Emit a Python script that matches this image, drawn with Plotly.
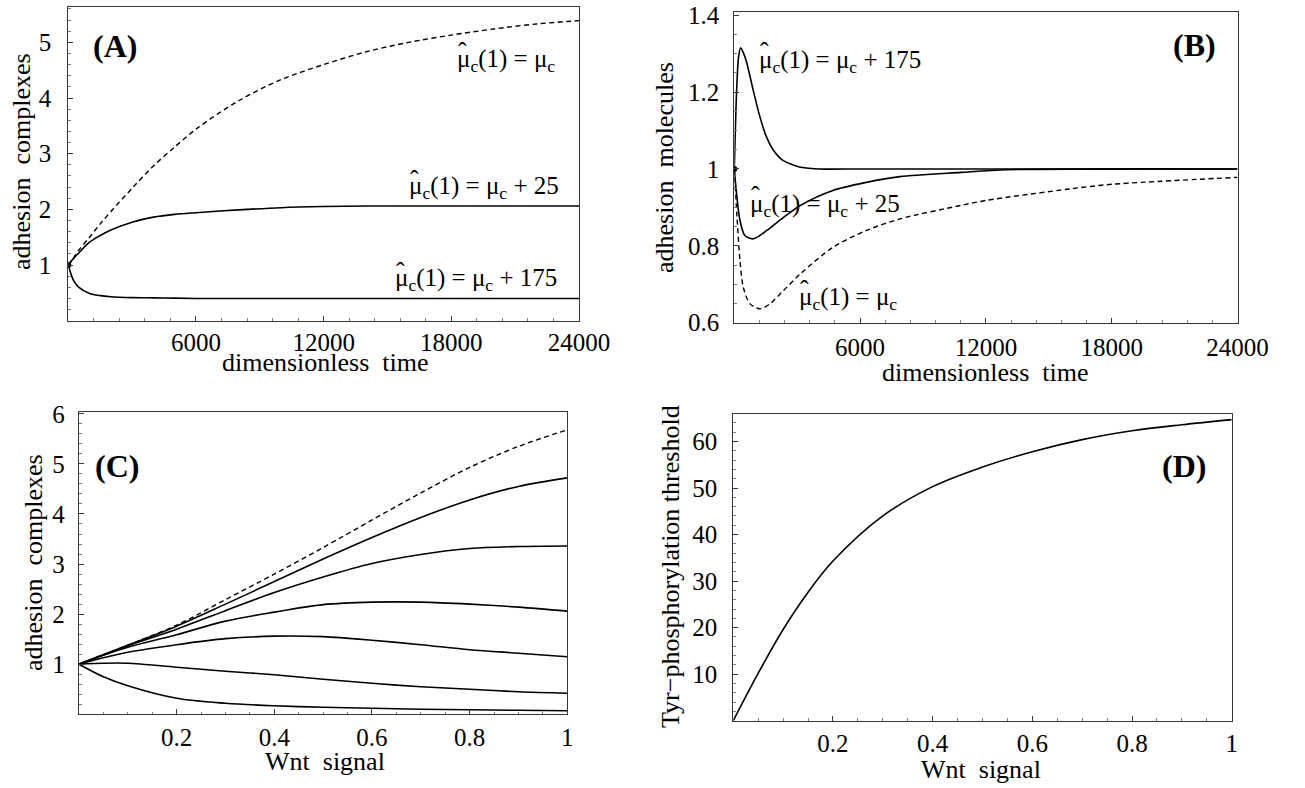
import plotly.graph_objects as go

W, H = 1305, 788
FONT = "Liberation Serif"

# ---------------- data ----------------
# Panel A: adhesion complexes vs dimensionless time
tA = [0, 250, 500, 1000, 1500, 2000, 3000, 4000, 5000, 6000, 8000, 10000,
      12000, 14000, 16000, 18000, 20000, 22000, 24000]
A_mu = [1, 1.13, 1.27, 1.50, 1.74, 1.96, 2.38, 2.78, 3.12, 3.44, 3.95, 4.33,
        4.60, 4.83, 5.00, 5.13, 5.24, 5.33, 5.39]
A_mu25 = [1, 1.12, 1.22, 1.41, 1.53, 1.63, 1.77, 1.86, 1.91, 1.94, 1.99, 2.03,
          2.05, 2.06, 2.06, 2.06, 2.06, 2.06, 2.06]
A_mu175 = [1, 0.72, 0.60, 0.49, 0.45, 0.43, 0.415, 0.41, 0.405, 0.40, 0.40, 0.40,
           0.40, 0.40, 0.40, 0.40, 0.40, 0.40, 0.40]

# Panel B: adhesion molecules vs dimensionless time
tB175 = [0, 50, 100, 200, 300, 450, 600, 900, 1200, 1500, 1850, 2300, 3100,
         4000, 6000, 12000, 24000]
B_mu175 = [1, 1.10, 1.19, 1.29, 1.315, 1.30, 1.275, 1.205, 1.14, 1.088, 1.05,
           1.023, 1.005, 1.0, 1.0, 1.0, 1.0]
tB25 = [0, 110, 270, 500, 860, 1200, 1550, 2350, 3150, 4700, 6300, 7900,
        10800, 13000, 24000]
B_mu25 = [1, 0.935, 0.866, 0.827, 0.818, 0.826, 0.84, 0.874, 0.905, 0.944,
          0.965, 0.98, 0.991, 0.998, 1.0]
tBmu = [0, 130, 270, 430, 750, 1230, 1700, 2350, 3150, 4700, 6300, 7900,
        10800, 12000, 16000, 18000, 24000]
B_mu = [1, 0.874, 0.762, 0.692, 0.649, 0.636, 0.649, 0.684, 0.727, 0.796,
        0.84, 0.87, 0.905, 0.918, 0.948, 0.96, 0.978]

# Panel C: adhesion complexes vs Wnt signal
wC = [0, 0.05, 0.1, 0.2, 0.3, 0.4, 0.5, 0.6, 0.7, 0.8, 0.9, 1.0]
C_dash = [1, 1.19, 1.38, 1.78, 2.29, 2.80, 3.33, 3.88, 4.42, 4.93, 5.35, 5.68]
C_s1 = [1, 1.19, 1.38, 1.76, 2.20, 2.65, 3.10, 3.53, 3.93, 4.28, 4.55, 4.72]
C_s2 = [1, 1.19, 1.37, 1.70, 2.07, 2.43, 2.74, 3.01, 3.19, 3.31, 3.35, 3.36]
C_s3 = [1, 1.18, 1.34, 1.59, 1.86, 2.04, 2.19, 2.24, 2.24, 2.20, 2.14, 2.06]
C_s4 = [1, 1.13, 1.24, 1.39, 1.51, 1.56, 1.55, 1.48, 1.39, 1.29, 1.22, 1.15]
C_s5 = [1, 1.02, 1.02, 0.94, 0.86, 0.79, 0.70, 0.62, 0.55, 0.50, 0.45, 0.42]
C_s6 = [1, 0.75, 0.57, 0.32, 0.22, 0.17, 0.14, 0.12, 0.10, 0.09, 0.08, 0.07]

# Panel D: Tyr-phosphorylation threshold vs Wnt signal
wD = [0, 0.05, 0.1, 0.15, 0.2, 0.3, 0.4, 0.5, 0.6, 0.7, 0.8, 0.9, 1.0]
D_thr = [0, 10.2, 19.6, 27.6, 34.3, 44.0, 50.3, 54.5, 57.8, 60.4, 62.3, 63.6, 64.7]

# tick labels
time_ticks = [6000, 12000, 18000, 24000]
A_yticks = [1, 2, 3, 4, 5]
B_yticks = [0.6, 0.8, 1.0, 1.2, 1.4]
B_yticktext = ["0.6", "0.8", "1", "1.2", "1.4"]
wnt_ticks = [0.2, 0.4, 0.6, 0.8, 1.0]
wnt_ticktext = ["0.2", "0.4", "0.6", "0.8", "1"]
C_yticks = [1, 2, 3, 4, 5, 6]
D_yticks = [10, 20, 30, 40, 50, 60]

# ---------------- figure ----------------
def px(x):
    return x / W


def py(y):
    return 1 - y / H


fig = go.Figure()

SOLID = dict(color="black", width=1.6)
DASH = dict(color="black", width=1.4, dash="5px,3.5px")


def add_line(x, y, xa, ya, line, smooth=0.9):
    fig.add_trace(go.Scatter(x=x, y=y, xaxis=xa, yaxis=ya, mode="lines",
                             line=dict(shape="spline", smoothing=smooth, **line),
                             showlegend=False, hoverinfo="skip"))


add_line(tA, A_mu, "x", "y", DASH)
add_line(tA, A_mu25, "x", "y", SOLID)
add_line(tA, A_mu175, "x", "y", SOLID)
fig.add_trace(go.Scatter(x=[tA[0]], y=[A_mu[0]], xaxis="x", yaxis="y", mode="markers",
                         marker=dict(color="black", size=6), showlegend=False))

add_line(tB175, B_mu175, "x2", "y2", SOLID, 0.7)
add_line(tB25, B_mu25, "x2", "y2", SOLID, 0.8)
add_line(tBmu, B_mu, "x2", "y2", DASH, 0.8)
fig.add_trace(go.Scatter(x=[tB175[0]], y=[B_mu175[0]], xaxis="x2", yaxis="y2", mode="markers",
                         marker=dict(color="black", size=6), showlegend=False))

add_line(wC, C_dash, "x3", "y3", DASH)
for s in (C_s1, C_s2, C_s3, C_s4, C_s5, C_s6):
    add_line(wC, s, "x3", "y3", SOLID)

add_line(wD, D_thr, "x4", "y4", SOLID, 1.0)

TICKFONT = dict(family=FONT, size=25, color="black")
FRAME = "#383838"


def axis(dom, rng, tv, tt, minor_dtick, standoff):
    d = dict(domain=dom, range=rng, tickmode="array", tickvals=tv, ticktext=tt,
             automargin=False,
             ticks="inside", ticklen=5, tickwidth=1, tickcolor=FRAME,
             showline=True, linecolor=FRAME, linewidth=1.3, mirror=True,
             showgrid=False, zeroline=False, tickfont=TICKFONT,
             ticklabelstandoff=standoff,
             minor=dict(ticks="inside", ticklen=2.5, tickcolor="#808080",
                        dtick=minor_dtick, tick0=0, showgrid=False))
    return d


# pixel frames
fA = (68.3, 579.0, 6.7, 320.7)
fB = (734.3, 1237.5, 11.7, 322.7)
fC = (79.0, 567.3, 412.3, 714.3)
fD = (733.3, 1231.7, 414.0, 720.7)


def xd(f):
    return [px(f[0]), px(f[1])]


def yd(f):
    return [py(f[3]), py(f[2])]


fig.update_layout(
    width=W, height=H, margin=dict(l=0, r=0, t=0, b=0, autoexpand=False),
    paper_bgcolor="white", plot_bgcolor="white", showlegend=False,
    xaxis=axis(xd(fA), [0, 24000], time_ticks, [str(v) for v in time_ticks], 1200, -1),
    yaxis=axis(yd(fA), [0, 5.64], A_yticks, [str(v) for v in A_yticks], 0.2, 11),
    xaxis2=axis(xd(fB), [0, 24000], time_ticks, [str(v) for v in time_ticks], 1200, 2),
    yaxis2=axis(yd(fB), [0.6, 1.409], B_yticks, B_yticktext, 0.05, 9),
    xaxis3=axis(xd(fC), [0, 1], wnt_ticks, wnt_ticktext, 0.05, 1),
    yaxis3=axis(yd(fC), [0, 6.03], C_yticks, [str(v) for v in C_yticks], 0.2, 8),
    xaxis4=axis(xd(fD), [0, 1], wnt_ticks, wnt_ticktext, 0.05, 0),
    yaxis4=axis(yd(fD), [0, 65.9], D_yticks, [str(v) for v in D_yticks], 2, 10),
)
for i in (2, 3, 4):
    fig.layout[f"xaxis{i}"].anchor = f"y{i}"
    fig.layout[f"yaxis{i}"].anchor = f"x{i}"
fig.layout.xaxis.anchor = "y"
fig.layout.yaxis.anchor = "x"

MU = "\u03bc<sub>c</sub>(1) = \u03bc<sub>c</sub>"
annots = []


def note(x, y, text, size=25, xanchor="center", angle=0):
    annots.append(dict(x=px(x), y=py(y), xref="paper", yref="paper", text=text,
                       showarrow=False, xanchor=xanchor, yanchor="middle",
                       textangle=angle, font=dict(family=FONT, size=size, color="black")))


def mu_label(x_left, y_mid, suffix):
    note(x_left, y_mid, MU + suffix, 25, "left")
    # circumflex over the first mu
    note(x_left + 7.5, y_mid - 9, "\u02c6", 26, "center")


# panel tags
note(115, 46, "<b>(A)</b>", 32)
note(1194, 45, "<b>(B)</b>", 32)
note(117, 466, "<b>(C)</b>", 32)
note(1184, 466, "<b>(D)</b>", 32)

# curve labels
mu_label(455, 60, "")
mu_label(407, 188, " + 25")
mu_label(393, 280, " + 175")
mu_label(757, 61, " + 175")
mu_label(748, 205, " + 25")
mu_label(797, 298, "")

# axis titles
note(325, 362, "dimensionless\u00a0 time", 26)
note(21, 162, "adhesion\u00a0 complexes", 26, angle=-90)
note(985, 372, "dimensionless\u00a0 time", 26)
note(665, 168, "adhesion\u00a0 molecules", 26, angle=-90)
note(325, 761, "Wnt\u00a0 signal", 26)
note(33, 563, "adhesion\u00a0 complexes", 26, angle=-90)
note(981, 769, "Wnt\u00a0 signal", 26)
note(670, 567, "Tyr\u2212phosphorylation threshold", 26, angle=-90)

fig.update_layout(annotations=annots)
fig.write_html(
    "out.html",
    config={"displayModeBar": False},
    post_script="document.body.style.margin='0';document.body.style.overflow='hidden';",
)
